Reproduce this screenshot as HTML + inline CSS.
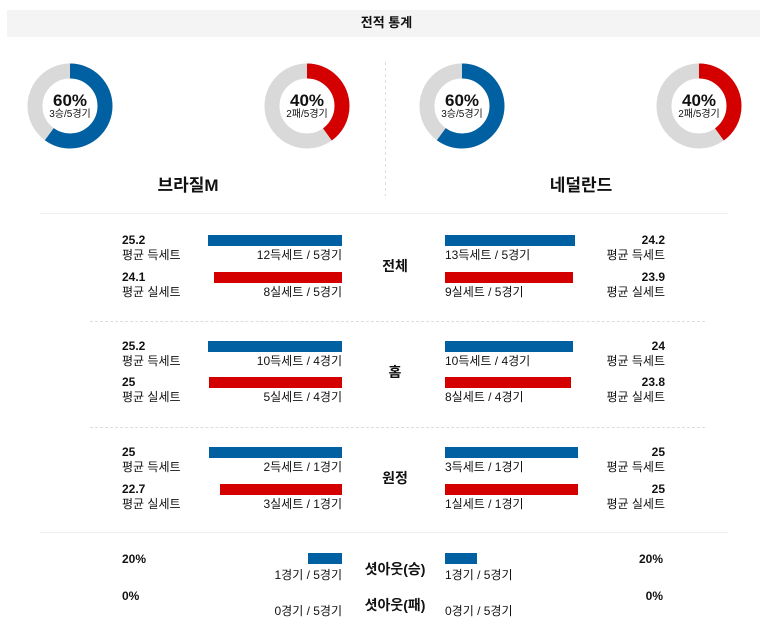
<!DOCTYPE html>
<html><head><meta charset="utf-8"><style>
body{margin:0;width:773px;height:625px;background:#fff;position:relative;overflow:hidden;font-family:"Liberation Sans","Noto Sans CJK KR",sans-serif;color:#111}
.a{position:absolute}
.t{position:absolute;white-space:nowrap;font-size:12px;line-height:14px}
.b{font-weight:bold}
.r{text-align:right}
.c{font-size:14px;font-weight:bold;line-height:16px;width:80px;text-align:center;left:355px}
.bl{position:absolute;background:#0060a2;height:11px}
.rd{position:absolute;background:#d40000;height:11px}
.p{position:absolute;width:80px;text-align:center;top:92px;font-size:17px;line-height:18px;font-weight:bold;white-space:nowrap}
.s{position:absolute;width:80px;text-align:center;top:109px;font-size:10px;line-height:11px;white-space:nowrap}
</style></head><body>
<div class="a" style="left:7px;top:10px;width:753px;height:27px;background:#f4f4f4"></div>
<div class="t b" style="left:0;width:773px;text-align:center;top:16px;font-size:13px">전적 통계</div>

<svg class="a" style="left:0;top:0" width="773" height="210">
<g fill="none" stroke-width="15">
<circle cx="70" cy="106" r="35" stroke="#d9d9d9"/>
<circle cx="70" cy="106" r="35" stroke="#0060a2" stroke-dasharray="131.9 300" transform="rotate(-90 70 106)"/>
<circle cx="307" cy="106" r="35" stroke="#d9d9d9"/>
<circle cx="307" cy="106" r="35" stroke="#d40000" stroke-dasharray="88 300" transform="rotate(-90 307 106)"/>
<circle cx="462" cy="106" r="35" stroke="#d9d9d9"/>
<circle cx="462" cy="106" r="35" stroke="#0060a2" stroke-dasharray="131.9 300" transform="rotate(-90 462 106)"/>
<circle cx="699" cy="106" r="35" stroke="#d9d9d9"/>
<circle cx="699" cy="106" r="35" stroke="#d40000" stroke-dasharray="88 300" transform="rotate(-90 699 106)"/>
</g>
<line x1="385.5" y1="62" x2="385.5" y2="196" stroke="#ddd" stroke-dasharray="3 3"/>
</svg>
<div class="p" style="left:30px">60%</div><div class="s" style="left:30px">3승/5경기</div>
<div class="p" style="left:267px">40%</div><div class="s" style="left:267px">2패/5경기</div>
<div class="p" style="left:422px">60%</div><div class="s" style="left:422px">3승/5경기</div>
<div class="p" style="left:659px">40%</div><div class="s" style="left:659px">2패/5경기</div>

<div class="t b" style="left:88px;width:200px;text-align:center;top:176px;font-size:17px;line-height:20px">브라질M</div>
<div class="t b" style="left:481px;width:200px;text-align:center;top:176px;font-size:17px;line-height:20px">네덜란드</div>

<div class="a" style="left:40px;top:213px;width:688px;height:1px;background:#eee"></div>
<div class="a" style="left:90px;top:321px;width:615px;border-top:1px dashed #ddd"></div>
<div class="a" style="left:90px;top:427px;width:615px;border-top:1px dashed #ddd"></div>
<div class="a" style="left:40px;top:532px;width:688px;height:1px;background:#eee"></div>

<!-- section 1 -->
<div class="t b" style="left:122px;top:233px">25.2</div><div class="t" style="left:122px;top:248px">평균 득세트</div>
<div class="t b" style="left:122px;top:270px">24.1</div><div class="t" style="left:122px;top:285px">평균 실세트</div>
<div class="bl" style="left:208px;width:134px;top:235px"></div>
<div class="t r" style="right:431px;top:248px">12득세트 / 5경기</div>
<div class="rd" style="left:214px;width:128px;top:272px"></div>
<div class="t r" style="right:431px;top:285px">8실세트 / 5경기</div>
<div class="t c" style="top:258px">전체</div>
<div class="bl" style="left:445px;width:130px;top:235px"></div>
<div class="t" style="left:445px;top:248px">13득세트 / 5경기</div>
<div class="rd" style="left:445px;width:128px;top:272px"></div>
<div class="t" style="left:445px;top:285px">9실세트 / 5경기</div>
<div class="t b r" style="right:108px;top:233px">24.2</div><div class="t r" style="right:108px;top:248px">평균 득세트</div>
<div class="t b r" style="right:108px;top:270px">23.9</div><div class="t r" style="right:108px;top:285px">평균 실세트</div>

<!-- section 2 -->
<div class="t b" style="left:122px;top:339px">25.2</div><div class="t" style="left:122px;top:354px">평균 득세트</div>
<div class="t b" style="left:122px;top:375px">25</div><div class="t" style="left:122px;top:390px">평균 실세트</div>
<div class="bl" style="left:208px;width:134px;top:341px"></div>
<div class="t r" style="right:431px;top:354px">10득세트 / 4경기</div>
<div class="rd" style="left:209px;width:133px;top:377px"></div>
<div class="t r" style="right:431px;top:390px">5실세트 / 4경기</div>
<div class="t c" style="top:364px">홈</div>
<div class="bl" style="left:445px;width:128px;top:341px"></div>
<div class="t" style="left:445px;top:354px">10득세트 / 4경기</div>
<div class="rd" style="left:445px;width:126px;top:377px"></div>
<div class="t" style="left:445px;top:390px">8실세트 / 4경기</div>
<div class="t b r" style="right:108px;top:339px">24</div><div class="t r" style="right:108px;top:354px">평균 득세트</div>
<div class="t b r" style="right:108px;top:375px">23.8</div><div class="t r" style="right:108px;top:390px">평균 실세트</div>

<!-- section 3 -->
<div class="t b" style="left:122px;top:445px">25</div><div class="t" style="left:122px;top:460px">평균 득세트</div>
<div class="t b" style="left:122px;top:482px">22.7</div><div class="t" style="left:122px;top:497px">평균 실세트</div>
<div class="bl" style="left:209px;width:133px;top:447px"></div>
<div class="t r" style="right:431px;top:460px">2득세트 / 1경기</div>
<div class="rd" style="left:220px;width:122px;top:484px"></div>
<div class="t r" style="right:431px;top:497px">3실세트 / 1경기</div>
<div class="t c" style="top:470px">원정</div>
<div class="bl" style="left:445px;width:133px;top:447px"></div>
<div class="t" style="left:445px;top:460px">3득세트 / 1경기</div>
<div class="rd" style="left:445px;width:133px;top:484px"></div>
<div class="t" style="left:445px;top:497px">1실세트 / 1경기</div>
<div class="t b r" style="right:108px;top:445px">25</div><div class="t r" style="right:108px;top:460px">평균 득세트</div>
<div class="t b r" style="right:108px;top:482px">25</div><div class="t r" style="right:108px;top:497px">평균 실세트</div>

<!-- section 4 -->
<div class="t b" style="left:122px;top:552px">20%</div>
<div class="t b" style="left:122px;top:589px">0%</div>
<div class="bl" style="left:308px;width:34px;top:553px"></div>
<div class="t r" style="right:431px;top:568px">1경기 / 5경기</div>
<div class="t r" style="right:431px;top:604px">0경기 / 5경기</div>
<div class="t c" style="top:561px;left:345px;width:100px">셧아웃(승)</div>
<div class="t c" style="top:597px;left:345px;width:100px">셧아웃(패)</div>
<div class="bl" style="left:445px;width:32px;top:553px"></div>
<div class="t" style="left:445px;top:568px">1경기 / 5경기</div>
<div class="t" style="left:445px;top:604px">0경기 / 5경기</div>
<div class="t b r" style="right:110px;top:552px">20%</div>
<div class="t b r" style="right:110px;top:589px">0%</div>
</body></html>
